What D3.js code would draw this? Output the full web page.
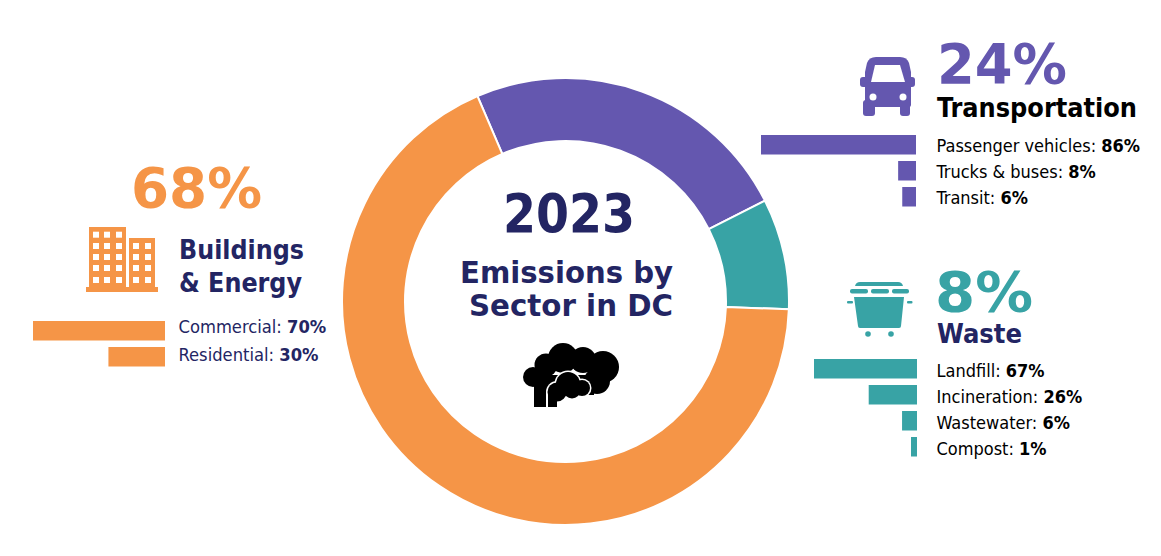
<!DOCTYPE html>
<html>
<head>
<meta charset="utf-8">
<script src="https://cdnjs.cloudflare.com/ajax/libs/d3/7.8.5/d3.min.js"></script>
<style>
body { margin: 0; background: #fff; }
svg { display: block; }
text { font-family: "DejaVu Sans Condensed", "DejaVu Sans", sans-serif; }
</style>
</head>
<body>
<svg id="chart" width="1161" height="556"></svg>
<script>
var sectorNames = ["Transportation", "Waste", "Buildings & Energy"];
var sectorShares = [24, 8, 68];

var transportLabels = ["Passenger vehicles", "Trucks & buses", "Transit"];
var transportValues = [86, 8, 6];
var wasteLabels = ["Landfill", "Incineration", "Wastewater", "Compost"];
var wasteValues = [67, 26, 6, 1];
var buildingLabels = ["Commercial", "Residential"];
var buildingValues = [70, 30];

var orange = "#F59547", purple = "#6457AF", teal = "#38A3A5", navy = "#232563";
var svg = d3.select("#chart");

// donut
var pie = d3.pie().sort(null)
	.startAngle(-23.2 * Math.PI / 180)
	.endAngle(336.8 * Math.PI / 180);
var arc = d3.arc().innerRadius(160.5).outerRadius(223.5);
var sliceColor = d3.scaleOrdinal().domain(sectorNames).range([purple, teal, orange]);

svg.append("g").attr("transform", "translate(565.5,301.5)")
	.selectAll("path").data(pie(sectorShares)).enter().append("path")
	.attr("d", arc)
	.attr("fill", function(d, i) { return sliceColor(sectorNames[i]); })
	.attr("stroke", "#fff").attr("stroke-width", 2);

function addText(x, y, str, size, color, weight, anchor, len) {
	var t = svg.append("text").attr("x", x).attr("y", y).text(str)
		.attr("font-size", size).attr("fill", color)
		.attr("font-weight", weight || "normal")
		.attr("text-anchor", anchor || "start");
	if (len) t.attr("textLength", len).attr("lengthAdjust", "spacingAndGlyphs");
	return t;
}

// bars grow leftwards from a common edge, labels sit to the right
function barGroup(labels, values, o) {
	var y = d3.scaleBand().domain(labels).range([o.top, o.top + labels.length * o.step]).paddingInner(0.25).paddingOuter(0.125);
	var w = d3.scalePow().exponent(o.exponent).domain([0, d3.max(values)]).range([0, o.maxWidth]);
	var g = svg.append("g");
	g.selectAll("rect").data(values).enter().append("rect")
		.attr("x", function(d) { return o.edge - Math.max(o.minWidth, w(d)); })
		.attr("y", function(d, i) { return y(labels[i]); })
		.attr("width", function(d) { return Math.max(o.minWidth, w(d)); })
		.attr("height", y.bandwidth())
		.attr("fill", o.color);
	labels.forEach(function(name, i) {
		var t = addText(o.textX, o.textY + i * o.textStep, name + ": ", o.textSize, o.textColor);
		t.append("tspan").attr("font-weight", "bold").text(values[i] + "%");
	});
}

barGroup(transportLabels, transportValues, {top: 131.75, step: 26, edge: 916, maxWidth: 155, exponent: 0.91, minWidth: 0, color: purple, textX: 936.5, textY: 152, textStep: 26, textSize: 18, textColor: "#000"});
barGroup(wasteLabels, wasteValues, {top: 355.75, step: 26, edge: 917, maxWidth: 103, exponent: 0.8, minWidth: 6, color: teal, textX: 936.5, textY: 377, textStep: 26, textSize: 18, textColor: "#000"});
barGroup(buildingLabels, buildingValues, {top: 317.75, step: 26, edge: 165, maxWidth: 132, exponent: 1, minWidth: 0, color: orange, textX: 178.5, textY: 333, textStep: 28, textSize: 18.2, textColor: navy});

// headings
addText(937, 83, sectorShares[0] + "%", 56, purple, "bold", "start", 130);
addText(937, 117, "Transportation", 27, "#000", "bold", "start", 200);
addText(935, 311, sectorShares[1] + "%", 55, teal, "bold", "start", 98);
addText(937, 343, "Waste", 27, navy, "bold", "start", 85);
addText(131, 207, sectorShares[2] + "%", 56, orange, "bold", "start", 131);
addText(179, 259, "Buildings", 27, navy, "bold", "start", 125);
addText(179, 292, "& Energy", 27, navy, "bold", "start", 123);

// centre
addText(503, 232, "2023", 54, navy, "bold", "start", 132);
addText(460, 283, "Emissions by", 30, navy, "bold", "start", 213);
addText(469, 316, "Sector in DC", 30, navy, "bold", "start", 204);

// bus icon
var bus = svg.append("g").attr("fill", purple);
bus.append("path").attr("d", "M865 72 L867 63 Q869 57 876 57 L900 57 Q907 57 909 63 L911 72 L911 105 Q911 107 909 107 L867 107 Q865 107 865 105 Z");
bus.append("rect").attr("x", 860).attr("y", 77).attr("width", 55).attr("height", 10).attr("rx", 3);
bus.append("rect").attr("x", 863).attr("y", 100).attr("width", 12).attr("height", 16).attr("rx", 3);
bus.append("rect").attr("x", 900).attr("y", 100).attr("width", 10).attr("height", 16).attr("rx", 3);
bus.append("path").attr("fill", "#fff").attr("d", "M875 65 L900 65 L905 82 L871 82 Z");
bus.append("circle").attr("cx", 873).attr("cy", 97).attr("r", 3.5).attr("fill", "#fff");
bus.append("circle").attr("cx", 903).attr("cy", 97).attr("r", 3.5).attr("fill", "#fff");

// bin icon
var bin = svg.append("g").attr("fill", teal);
bin.append("path").attr("d", "M855 286 Q856 282 860 282 L898 282 Q902 282 903 286 Z");
[[850, 18], [871, 18], [892, 17]].forEach(function(p) {
	bin.append("rect").attr("x", p[0]).attr("y", 289).attr("width", p[1]).attr("height", 4.5).attr("rx", 2);
});
bin.append("rect").attr("x", 847).attr("y", 301).attr("width", 6).attr("height", 2.5).attr("rx", 1);
bin.append("rect").attr("x", 907).attr("y", 301).attr("width", 5.5).attr("height", 2.5).attr("rx", 1);
bin.append("path").attr("d", "M854 297 L904 297 L901 326 Q901 328 899 328 L860 328 Q858 328 858 326 Z");
bin.append("circle").attr("cx", 868).attr("cy", 334).attr("r", 2.8);
bin.append("circle").attr("cx", 891).attr("cy", 334).attr("r", 2.8);

// building icon
var bld = svg.append("g").attr("fill", orange);
bld.append("rect").attr("x", 89).attr("y", 227).attr("width", 37).attr("height", 61);
bld.append("rect").attr("x", 129).attr("y", 238).attr("width", 26).attr("height", 50);
bld.append("rect").attr("x", 86).attr("y", 287).attr("width", 72).attr("height", 5);
[96, 107, 119].forEach(function(cx) {
	[234.7, 246, 257, 268, 280].forEach(function(cy) {
		bld.append("rect").attr("x", cx - 3).attr("y", cy - 3).attr("width", 6).attr("height", 6).attr("fill", "#fff");
	});
});
[136, 148].forEach(function(cx) {
	[246, 257, 268, 280].forEach(function(cy) {
		bld.append("rect").attr("x", cx - 3).attr("y", cy - 3).attr("width", 6).attr("height", 6).attr("fill", "#fff");
	});
});

// cloud icon
var cloud = svg.append("g").attr("fill", "#000");
[[533, 377, 10], [546, 365, 11.5], [563, 358, 15], [583, 360, 13], [603, 367, 16], [597, 381, 13]].forEach(function(c) {
	cloud.append("circle").attr("cx", c[0]).attr("cy", c[1]).attr("r", c[2]);
});
cloud.append("rect").attr("x", 534).attr("y", 375).attr("width", 60).attr("height", 20);
cloud.append("rect").attr("x", 534).attr("y", 385).attr("width", 13).attr("height", 22);
var smallCircles = [[557, 392, 9.5], [568, 384, 12], [582, 388, 8], [572, 390, 8.5]];
smallCircles.forEach(function(c) {
	cloud.append("circle").attr("cx", c[0]).attr("cy", c[1]).attr("r", c[2] + 1.5).attr("fill", "#fff");
});
cloud.append("rect").attr("x", 546).attr("y", 392).attr("width", 12).attr("height", 15.5).attr("fill", "#fff");
smallCircles.forEach(function(c) {
	cloud.append("circle").attr("cx", c[0]).attr("cy", c[1]).attr("r", c[2]);
});
cloud.append("rect").attr("x", 548).attr("y", 392).attr("width", 9).attr("height", 15);
</script>
</body>
</html>
